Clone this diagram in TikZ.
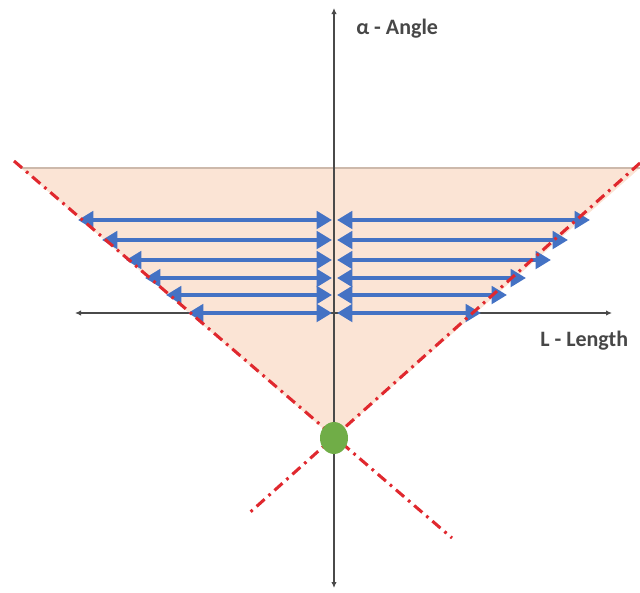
\documentclass[tikz,border=0pt]{standalone}
\usepackage{fontspec}
\setmainfont{Carlito}
\usetikzlibrary{positioning,arrows.meta,shapes.geometric}
\definecolor{zoneFill}{HTML}{FBE4D5}
\definecolor{zoneEdge}{HTML}{CDB9AB}
\definecolor{sweepBlue}{HTML}{4472C4}
\definecolor{limitRed}{HTML}{E0282E}
\definecolor{originGreen}{HTML}{70AD47}
\definecolor{axisGray}{HTML}{4A4A4A}

\begin{document}
\begin{tikzpicture}[
  x=0.75pt, y=-0.75pt,
  axis/.style={
    draw=axisGray, line width=0.8pt,
    {Latex[length=4.5pt,width=4pt]}-{Latex[length=4.5pt,width=4pt]}
  },
  sweep/.style={
    draw=sweepBlue, line width=3.6pt,
    {Triangle[length=11.5pt,width=13pt]}-{Triangle[length=11.5pt,width=13pt]}
  },
  limit/.style={
    draw=limitRed, line width=2.3pt,
    dash pattern=on 8pt off 4pt on 2pt off 4pt
  },
  origin/.style={
    ellipse, fill=originGreen, minimum width=21pt, minimum height=24pt,
    inner sep=0pt
  },
  lbl/.style={font=\fontsize{16.5}{20}\selectfont\bfseries, text=black!72,
    inner sep=0pt}
]

\useasboundingbox (0,0) rectangle (640,593);

\coordinate (apex) at (334,438);
\coordinate (topL) at (21,168);
\coordinate (topR) at (640,168);
\fill[zoneFill] (topL) -- (topR) -- (apex) -- cycle;
\draw[zoneEdge, line width=0.8pt] (topL) -- (topR);

\coordinate (vBot) at (334,588);
\coordinate (vTop) at (334,8);
\coordinate (hLeft) at (75,313);
\coordinate (hRight) at (612,313);
\draw[axis] (vBot) -- (vTop);
\draw[axis] (hLeft) -- (hRight);

\foreach \y/\xl/\xr [count=\i] in {220/78/590, 240/102/568, 260/126/551,
                                   278/145/526, 295/166/507, 313/188/481}{
  \coordinate (sL\i) at (\xl,\y);
  \coordinate (sM\i) at (332,\y);
  \coordinate (sN\i) at (337,\y);
  \coordinate (sR\i) at (\xr,\y);
  \draw[sweep] (sL\i) -- (sM\i);
  \draw[sweep] (sN\i) -- (sR\i);
}

\coordinate (limA1) at (14,161);
\coordinate (limA2) at (452,538);
\coordinate (limB1) at (640,163);
\coordinate (limB2) at (247,515);
\draw[limit] (limA1) -- (limA2);
\draw[limit] (limB1) -- (limB2);

\node[origin] (org) at (apex) {};

\node[lbl, anchor=base west] (angle) at (356,34) {α - Angle};
\node[lbl, anchor=base west] (length) at (540,346) {L - Length};

\end{tikzpicture}
\end{document}
